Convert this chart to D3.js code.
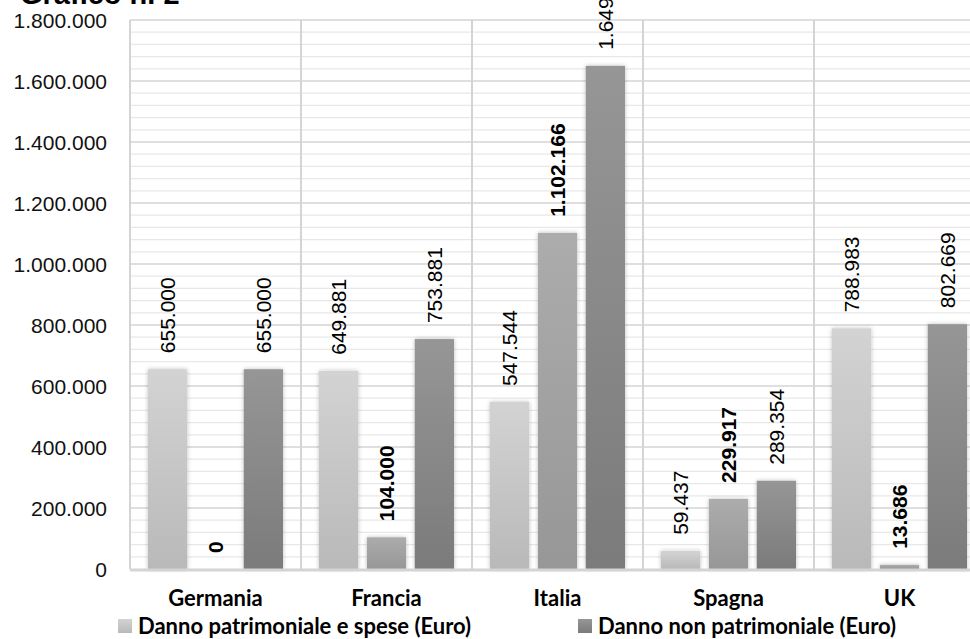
<!DOCTYPE html>
<html><head><meta charset="utf-8">
<script src="https://cdn.jsdelivr.net/npm/d3@7"></script>
<style>body{margin:0;background:#fff;}svg{display:block;}</style>
</head><body>
<svg id="c" width="970" height="639"></svg>
<script>
const categories = ["Germania","Francia","Italia","Spagna","UK"];
const patrimoniale = [655000, 649881, 547544, 59437, 788983];
const nonPatrimoniale = [0, 104000, 1102166, 229917, 13686];
const totale = [655000, 753881, 1649710, 289354, 802669];
const yTicks = [0,200000,400000,600000,800000,1000000,1200000,1400000,1600000,1800000];
const legendNames = ["Danno patrimoniale e spese (Euro)","Danno non patrimoniale (Euro)"];

const svg = d3.select("#c");
const X0 = 130, X1 = 985, Y0 = 569, Y1 = 20;
const fmt = v => d3.format(",")(v).replace(/,/g, ".");

const x = d3.scaleBand().domain(categories).range([X0, X1]).padding(0);
const xs = d3.scaleBand().domain([0,1,2]).range([18, x.bandwidth()-18]).paddingInner(0.18);
const y = d3.scaleLinear().domain([0, 1800000]).range([Y0, Y1]);

const defs = svg.append("defs");
const grads = [["#d3d3d3","#b9b9b9"],["#acacac","#979797"],["#969696","#7b7b7b"]];
grads.forEach((g,i)=>{
  const lg = defs.append("linearGradient").attr("id","g"+i).attr("x1",0).attr("y1",0).attr("x2",0).attr("y2",1);
  lg.append("stop").attr("offset","0%").attr("stop-color",g[0]);
  lg.append("stop").attr("offset","100%").attr("stop-color",g[1]);
});
const f = defs.append("filter").attr("id","sh").attr("x","-30%").attr("y","-10%").attr("width","160%").attr("height","120%");
f.append("feGaussianBlur").attr("in","SourceAlpha").attr("stdDeviation",2).attr("result","b");
f.append("feFlood").attr("flood-color","#000").attr("flood-opacity",0.25);
f.append("feComposite").attr("in2","b").attr("operator","in").attr("result","s");
const fm = f.append("feMerge"); fm.append("feMergeNode").attr("in","s"); fm.append("feMergeNode").attr("in","SourceGraphic");

// minor gridlines
const minor = d3.range(40000, 1800000, 40000).filter(v => v % 200000 !== 0);
svg.append("g").selectAll("line").data(minor).join("line")
  .attr("x1",X0).attr("x2",X1).attr("y1",d=>y(d)).attr("y2",d=>y(d))
  .attr("stroke","#e8e8e8").attr("stroke-width",1.3);
svg.append("g").selectAll("line").data(yTicks.filter(v=>v>0)).join("line")
  .attr("x1",X0).attr("x2",X1).attr("y1",d=>y(d)).attr("y2",d=>y(d))
  .attr("stroke","#d4d4d4").attr("stroke-width",1.5);
// vertical dividers
svg.append("g").selectAll("line").data(categories.concat(["end"])).join("line")
  .attr("x1",(d,i)=>X0 + i*x.step()).attr("x2",(d,i)=>X0 + i*x.step())
  .attr("y1",Y1).attr("y2",Y0)
  .attr("stroke","#d4d4d4").attr("stroke-width",2);

// y axis labels
const yAxis = d3.axisLeft(y).tickValues(yTicks).tickFormat(fmt).tickSize(0).tickPadding(0);
const ya = svg.append("g").attr("transform","translate(107,0)").call(yAxis);
ya.select(".domain").remove();
ya.selectAll("text").attr("font-family","'Liberation Sans',Arial,sans-serif").attr("font-size",21).attr("fill","#111").attr("dy","0.35em");

// bars
const series = [patrimoniale, nonPatrimoniale, totale];
const bg = svg.append("g").attr("filter","url(#sh)");
series.forEach((vals,si)=>{
  bg.selectAll(null).data(vals).join("rect")
    .attr("x",(d,i)=>x(categories[i]) + xs(si))
    .attr("width",xs.bandwidth())
    .attr("y",d=>y(d)).attr("height",d=>Y0 - y(d))
    .attr("fill","url(#g"+si+")");
});
// x axis line
svg.append("line").attr("x1",X0).attr("x2",X1).attr("y1",Y0+1).attr("y2",Y0+1).attr("stroke","#d4d4d4").attr("stroke-width",3);

// data labels
series.forEach((vals,si)=>{
  svg.append("g").selectAll("text").data(vals).join("text")
    .attr("transform",(d,i)=>`translate(${x(categories[i]) + xs(si) + xs.bandwidth()/2},${y(d)-16}) rotate(-90)`)
    .attr("text-anchor","start").attr("dy","0.36em")
    .attr("font-family","'Liberation Sans',Arial,sans-serif").attr("font-size",21)
    .attr("font-weight", si===1 ? "bold" : "normal")
    .attr("fill","#000").text(d=>fmt(d));
});

// category labels
const xAxis = d3.axisBottom(x).tickSize(0).tickPadding(0);
const xa = svg.append("g").attr("transform","translate(0,606)").call(xAxis);
xa.select(".domain").remove();
xa.selectAll("text").attr("dy",0).attr("font-family","Lato,'Liberation Sans',sans-serif").attr("font-weight","bold").attr("font-size",22).attr("fill","#000");

// legend
const lx = [118, 578];
legendNames.forEach((n,i)=>{
  svg.append("rect").attr("x",lx[i]).attr("y",619).attr("width",14).attr("height",14).attr("fill","url(#g"+(i===0?0:2)+")");
  svg.append("text").attr("x",lx[i]+20).attr("y",634).attr("font-family","Lato,'Liberation Sans',sans-serif")
    .attr("font-weight","bold").attr("font-size",22).attr("fill","#000").text(n);
});

// title (clipped at top)
svg.append("text").attr("x",20).attr("y",4).attr("font-family","'Liberation Sans',Arial,sans-serif")
  .attr("font-weight","bold").attr("font-size",29).attr("fill","#000").text("Grafico n. 2");
</script>
</body></html>
